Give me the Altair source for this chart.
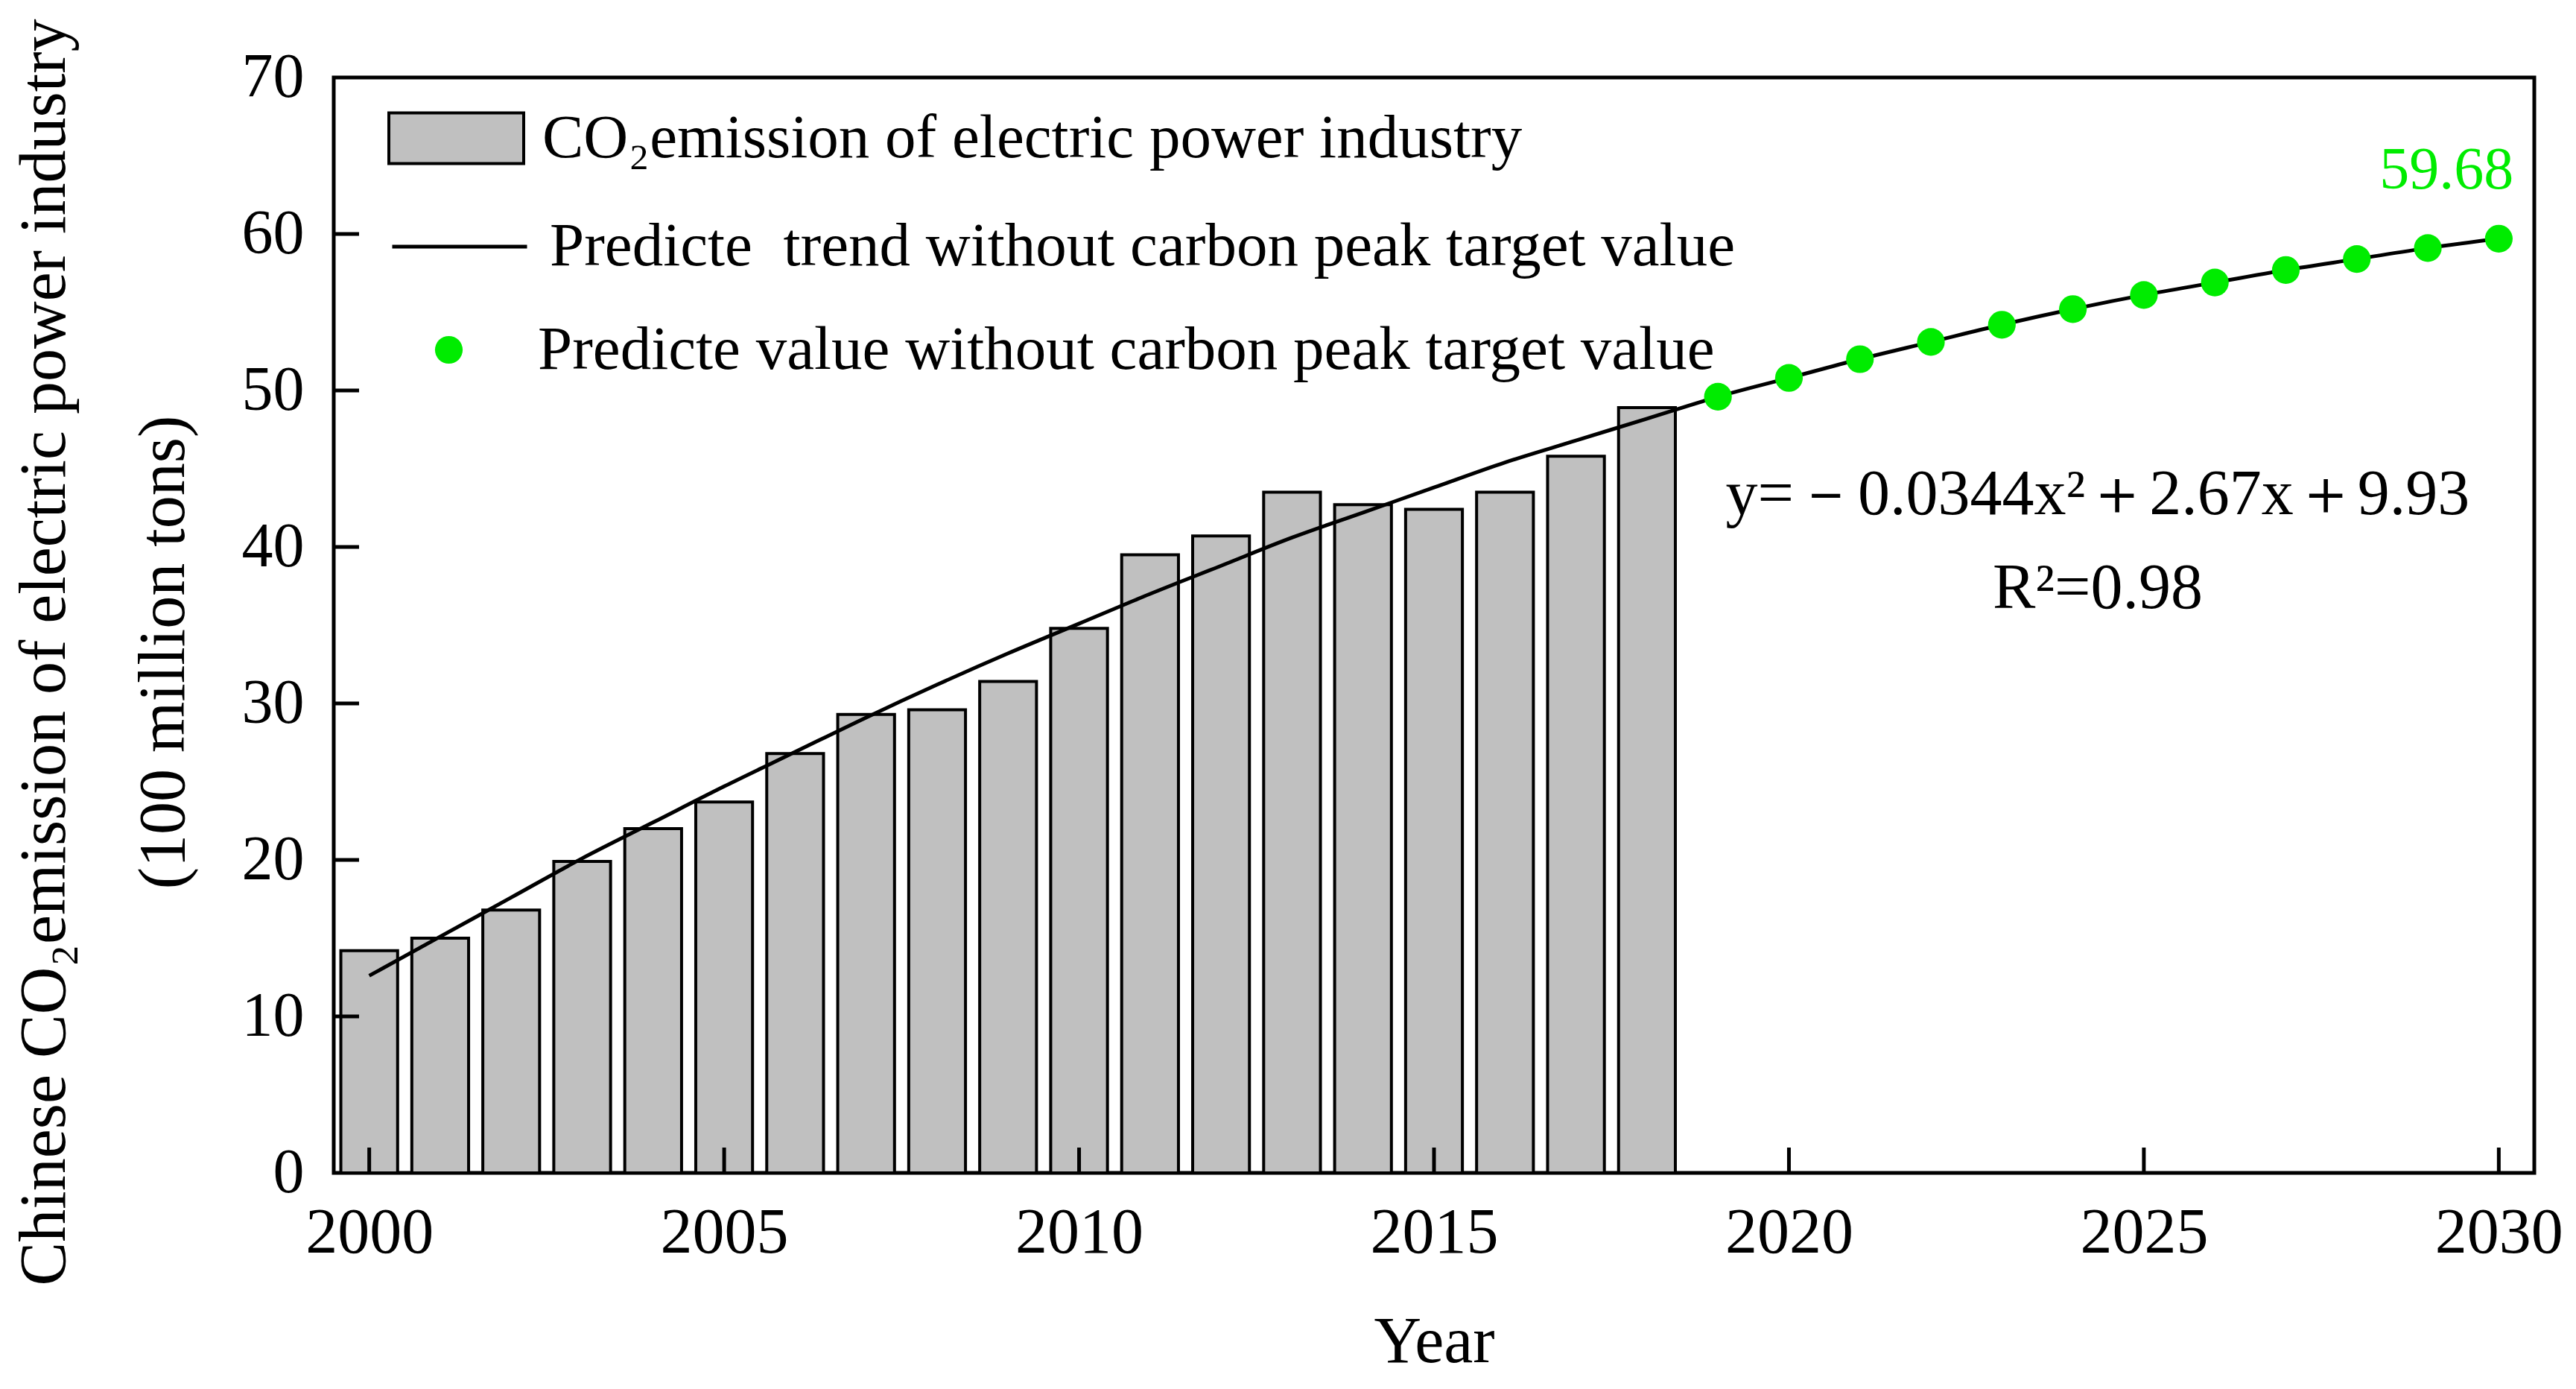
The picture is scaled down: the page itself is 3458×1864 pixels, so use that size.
import altair as alt
import pandas as pd

# CO2 emission of the electric power industry (100 million tons)
years = list(range(2000, 2019))
emission = [14.2, 15.0, 16.8, 19.9, 22.0, 23.7, 26.8, 29.3, 29.6, 31.4,
            34.8, 39.5, 40.7, 43.5, 42.7, 42.4, 43.5, 45.8, 48.9]

# fitted trend curve
trend_years = list(range(2000, 2031))
trend_values = [12.6, 15.1, 17.6, 20.1, 22.4, 24.7, 26.9, 29.1, 31.2, 33.2,
                35.1, 37.0, 38.8, 40.6, 42.2, 43.8, 45.4, 46.8, 48.2, 49.6,
                50.8, 52.0, 53.1, 54.2, 55.2, 56.1, 56.9, 57.7, 58.4, 59.1, 59.7]

# predicted values (green dots)
pred_years = list(range(2019, 2031))
pred_values = [49.6, 50.8, 52.0, 53.1, 54.2, 55.2, 56.1, 56.9, 57.7, 58.4, 59.1, 59.7]

# annotations
eq_text = ["y=－0.0344x²＋2.67x＋9.93", "R²=0.98"]
eq_year = [2024.35, 2024.35]
eq_value = [42.1, 36.1]
end_label = ["59.68"]
end_year = [2030]
end_value = [59.7]

series_names = [
    "CO₂emission of electric power industry",
    "Predicte\u00a0 trend without carbon peak target value",
    "Predicte value without carbon peak target value",
]
x_ticks = [2000, 2005, 2010, 2015, 2020, 2025, 2030]
y_ticks = [0, 10, 20, 30, 40, 50, 60, 70]

FONT = "Liberation Serif"
GREEN = "#00ec00"
W, H = 2954, 1470
TICK = 34

bars = pd.DataFrame({"year": years, "value": emission, "series": series_names[0]})
trend = pd.DataFrame({"year": trend_years, "value": trend_values, "series": series_names[1]})
pred = pd.DataFrame({"year": pred_years, "value": pred_values, "series": series_names[2]})
eq = pd.DataFrame({"year": eq_year, "value": eq_value, "label": eq_text})
endl = pd.DataFrame({"year": end_year, "value": end_value, "label": end_label})
xt = pd.DataFrame({"year": x_ticks})
yt = pd.DataFrame({"value": y_ticks[1:-1]})

x_scale = alt.Scale(domain=[1999.5, 2030.5], nice=False, zero=False)
y_scale = alt.Scale(domain=[0, 70], nice=False)
x_axis = alt.Axis(
    values=x_ticks, format="d", title="Year", grid=False, domain=False, ticks=False,
    labelFont=FONT, labelFontSize=86, labelColor="black", labelPadding=38,
    labelFlush=False, labelOverlap=False,
    titleFont=FONT, titleFontSize=88, titleFontWeight="normal",
    titleColor="black", titlePadding=60,
)
y_axis = alt.Axis(
    values=y_ticks, title=["Chinese CO₂emission of electric power industry", "(100 million tons)"],
    grid=False, domain=False, ticks=False,
    labelFont=FONT, labelFontSize=84, labelColor="black", labelPadding=40,
    labelFlush=False, labelOverlap=False,
    titleFont=FONT, titleFontSize=88, titleFontWeight="normal", titleColor="black",
    titleLineHeight=160, titlePadding=60, titleY=771,
)
x_enc = alt.X("year:Q", scale=x_scale, axis=x_axis)
y_enc = alt.Y("value:Q", scale=y_scale, axis=y_axis)

legend_common = dict(title=None, orient="none", labelFont=FONT, labelFontSize=83,
                     labelColor="black", labelLimit=0)

bar_layer = alt.Chart(bars).transform_calculate(
    x0="datum.year - 0.4", x1="datum.year + 0.4"
).mark_bar(stroke="black", strokeWidth=4, opacity=1).encode(
    x=alt.X("x0:Q", scale=x_scale, axis=x_axis),
    x2="x1:Q",
    y=y_enc,
    y2=alt.datum(0),
    color=alt.Color("series:N", scale=alt.Scale(domain=[series_names[0]], range=["#c0c0c0"]),
                    legend=alt.Legend(legendX=72, legendY=-11,
                                      symbolType="M-1,-0.376H1V0.376H-1Z", symbolSize=32761,
                                      symbolStrokeColor="black", symbolStrokeWidth=4,
                                      labelOffset=23, **legend_common)),
)

line_layer = alt.Chart(trend).mark_line(strokeWidth=5, interpolate="monotone").encode(
    x=x_enc, y=y_enc,
    color=alt.Color("series:N", scale=alt.Scale(domain=[series_names[1]], range=["black"]),
                    legend=alt.Legend(legendX=76, legendY=134, symbolType="stroke",
                                      symbolSize=32761, symbolStrokeWidth=5,
                                      labelOffset=28, **legend_common)),
)

point_layer = alt.Chart(pred).mark_circle(size=1385, opacity=1).encode(
    x=x_enc, y=y_enc,
    color=alt.Color("series:N", scale=alt.Scale(domain=[series_names[2]], range=[GREEN]),
                    legend=alt.Legend(legendX=113, legendY=324, symbolType="circle",
                                      symbolSize=1385, symbolOpacity=1,
                                      labelOffset=78, **legend_common)),
)

# inward-pointing ticks, drawn over the bars
xtick_layer = alt.Chart(xt).mark_rule(color="black", strokeWidth=5).encode(
    x=x_enc, y=alt.value(H - TICK), y2=alt.value(H)
)
ytick_layer = alt.Chart(yt).mark_rule(color="black", strokeWidth=5).encode(
    y=y_enc, x=alt.value(0), x2=alt.value(TICK)
)

eq_layer = alt.Chart(eq).mark_text(
    font=FONT, fontSize=86, color="black", align="center", baseline="alphabetic"
).encode(x=x_enc, y=y_enc, text="label:N")

end_layer = alt.Chart(endl).mark_text(
    font=FONT, fontSize=80, color=GREEN, align="right", baseline="alphabetic", dx=20, dy=-67
).encode(x=x_enc, y=y_enc, text="label:N")

chart = alt.layer(
    bar_layer, line_layer, point_layer, xtick_layer, ytick_layer, eq_layer, end_layer
).resolve_scale(
    color="independent"
).resolve_legend(
    color="independent"
).properties(
    width=W, height=H, background="white",
    padding={"left": 440, "top": 96, "right": 40, "bottom": 290},
    autosize=alt.AutoSizeParams(type="none"),
).configure_view(
    stroke="black", strokeWidth=5
)

chart.save("out.html", embed_options={"renderer": "svg", "actions": False})
